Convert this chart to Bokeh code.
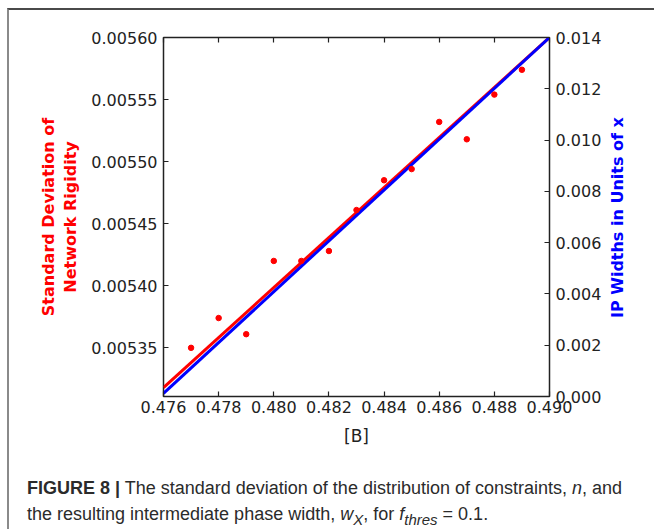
from bokeh.plotting import figure
from bokeh.models import Range1d, LinearAxis, FixedTicker, NumeralTickFormatter, Div
from bokeh.layouts import column, row
from bokeh.embed import file_html
from bokeh.resources import INLINE

# ---- data ----
b_values = [0.477, 0.478, 0.479, 0.480, 0.481, 0.482, 0.483, 0.484, 0.485, 0.486, 0.487, 0.488, 0.489]
std_rigidity = [0.005350, 0.005374, 0.005361, 0.005420, 0.005420, 0.005428, 0.005461,
                0.005485, 0.005494, 0.005532, 0.005518, 0.005554, 0.005574]
fit_b = [0.476, 0.490]
fit_std = [0.005318, 0.005600]
ip_width = [0.00012, 0.01400]

x_ticks = [0.476, 0.478, 0.480, 0.482, 0.484, 0.486, 0.488, 0.490]
y_left_ticks = [0.00535, 0.00540, 0.00545, 0.00550, 0.00555, 0.00560]
y_right_ticks = [0.000, 0.002, 0.004, 0.006, 0.008, 0.010, 0.012, 0.014]
right_label = "IP Widths in Units of x"

RED = "#ff0000"
BLUE = "#0000ff"
FONT = "DejaVu Sans"

p = figure(width=597, height=450,
           x_range=Range1d(0.476, 0.490), y_range=Range1d(0.0053108, 0.0056),
           output_backend="svg", toolbar_location=None,
           x_axis_location=None, y_axis_location=None,
           min_border_left=154, min_border_right=57, min_border_top=27, min_border_bottom=64,
           background_fill_color="white", border_fill_color="white")
p.extra_y_ranges = {"ip": Range1d(0.0, 0.014)}
p.grid.visible = False
p.outline_line_color = "#222222"
p.outline_line_width = 1.5
p.outline_line_alpha = 1.0


def style_axis(ax, size="16px"):
    ax.major_tick_in = 5
    ax.major_tick_out = 0
    ax.minor_tick_line_color = None
    ax.axis_line_color = None
    ax.major_tick_line_color = "#222222"
    ax.major_tick_line_width = 1.2
    ax.major_label_text_font = FONT
    ax.major_label_text_font_size = size
    ax.major_label_text_color = "#222222"


xb = LinearAxis(ticker=FixedTicker(ticks=x_ticks), formatter=NumeralTickFormatter(format="0.000"))
style_axis(xb)
xb.major_label_standoff = 4
xb.axis_label = "[B]"
xb.axis_label_text_font = FONT
xb.axis_label_text_font_style = "normal"
xb.axis_label_text_font_size = "17px"
xb.axis_label_text_color = "#222222"
xb.axis_label_standoff = 10
p.add_layout(xb, "below")

xt = LinearAxis(ticker=FixedTicker(ticks=x_ticks), major_label_text_font_size="0px")
style_axis(xt, "0px")
xt.major_label_standoff = 0
p.add_layout(xt, "above")

yl = LinearAxis(ticker=FixedTicker(ticks=y_left_ticks), formatter=NumeralTickFormatter(format="0.00000"))
style_axis(yl)
yl.major_label_standoff = 6
yl.axis_label = "Standard Deviation of\nNetwork Rigidity"
yl.axis_label_text_font = FONT
yl.axis_label_text_font_style = "bold"
yl.axis_label_text_font_size = "16px"
yl.axis_label_text_color = RED
yl.axis_label_standoff = 8
p.add_layout(yl, "left")

yr = LinearAxis(y_range_name="ip", ticker=FixedTicker(ticks=y_right_ticks),
                formatter=NumeralTickFormatter(format="0.000"))
style_axis(yr)
yr.major_label_standoff = 6
p.add_layout(yr, "right")

p.line(fit_b, fit_std, line_color=RED, line_width=3)
p.line(fit_b, ip_width, line_color=BLUE, line_width=3, y_range_name="ip")
p.scatter(b_values, std_rigidity, size=5.5, fill_color=RED, line_color=RED)

# right axis title, reading bottom-to-top like matplotlib's
right_title = Div(
    text=right_label, width=48, height=450,
    styles={"writing-mode": "vertical-rl", "transform": "rotate(180deg)",
            "text-align": "center", "line-height": "14px", "white-space": "nowrap",
            "font-family": "DejaVu Sans", "font-weight": "bold", "font-size": "16px",
            "color": BLUE, "padding-top": "44px", "box-sizing": "border-box",
            "background-color": "white"})

caption = Div(
    text=("<b>FIGURE 8 |</b> The standard deviation of the distribution of constraints, <i>n</i>, and<br>"
          "the resulting intermediate phase width, <i>w<sub>X</sub></i>, for "
          "<i>f<sub>thres</sub></i> = 0.1."),
    width=645, height=60,
    styles={"font-family": "Liberation Sans, Arial, sans-serif", "font-size": "18px",
            "line-height": "26px", "color": "#2b2b2b", "padding-top": "0px",
            "padding-left": "13px", "box-sizing": "border-box", "white-space": "nowrap"})

layout = column(row(p, right_title, spacing=0), caption, spacing=0,
                styles={"margin-left": "7px", "margin-top": "8px",
                        "border-left": "2px solid #8a8a8a", "border-top": "2px solid #4a4a4a",
                        "background-color": "white"})

open("out.html", "w").write(file_html(layout, INLINE))
